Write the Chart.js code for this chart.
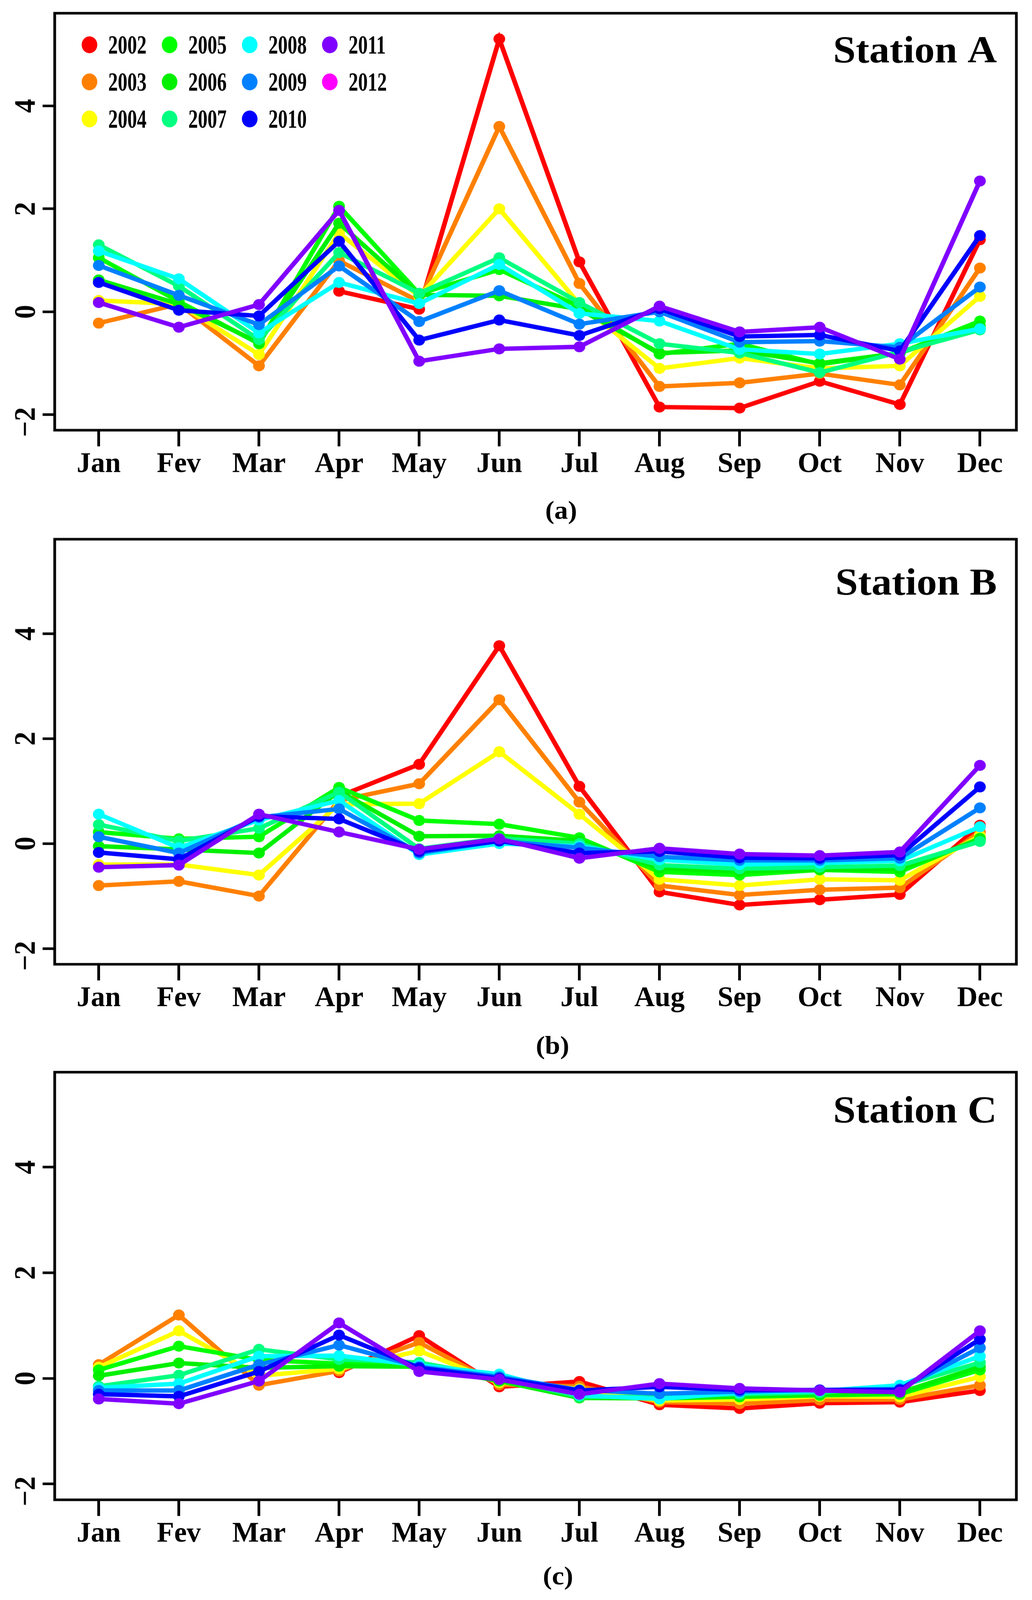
<!DOCTYPE html>
<html lang="en">
<head>
<meta charset="UTF-8">
<title>Monthly anomalies, Stations A, B and C</title>
<script src="https://cdn.jsdelivr.net/npm/chart.js"></script>
<style>
    html, body { margin: 0; padding: 0; background: #fff; overflow: hidden; }
    #page { position: relative; width: 2641px; height: 4359px; transform-origin: 0 0; }
    #page canvas { position: absolute; left: 0; }
    .caption {
        position: absolute;
        width: 200px;
        margin-left: -100px;
        text-align: center;
        font: bold 70px 'Liberation Serif', serif;
        line-height: 70px;
        color: #000;
    }
</style>
</head>
<body>
<div id="page">
    <canvas id="chartA" width="2641" height="1453" style="top:0px;width:2641px;height:1453px"></canvas>
    <canvas id="chartB" width="2641" height="1453" style="top:1453px;width:2641px;height:1453px"></canvas>
    <canvas id="chartC" width="2641" height="1453" style="top:2906px;width:2641px;height:1453px"></canvas>
    <div class="caption" style="left:1436px;top:1355px">(a)</div>
    <div class="caption" style="left:1414px;top:2813px">(b)</div>
    <div class="caption" style="left:1428px;top:4258px">(c)</div>
</div>

<script>
    // ---- data ----
    const months = ['Jan', 'Fev', 'Mar', 'Apr', 'May', 'Jun', 'Jul', 'Aug', 'Sep', 'Oct', 'Nov', 'Dec'];
    const years = [2002, 2003, 2004, 2005, 2006, 2007, 2008, 2009, 2010, 2011, 2012];
    const yTicks = [-2, 0, 2, 4];

    // one row per year, Jan..Dec (2002 starts in April, 2012 has no values)
    const stationA = [
        [null, null, null, 0.40, 0.05, 5.30, 0.97, -1.85, -1.87, -1.35, -1.80, 1.40],
        [-0.22, 0.15, -1.05, 0.99, 0.20, 3.60, 0.55, -1.45, -1.38, -1.20, -1.42, 0.85],
        [0.22, 0.15, -0.83, 1.53, 0.30, 2.00, 0.15, -1.10, -0.90, -1.10, -1.05, 0.30],
        [1.05, 0.20, -0.62, 2.05, 0.35, 0.82, 0.10, -0.82, -0.62, -1.02, -0.80, -0.18],
        [0.62, 0.15, -0.60, 1.72, 0.33, 0.31, 0.05, -0.80, -0.75, -1.00, -0.80, -0.28],
        [1.30, 0.50, -0.54, 1.15, 0.36, 1.05, 0.18, -0.62, -0.80, -1.18, -0.78, -0.35],
        [1.18, 0.64, -0.41, 0.57, 0.16, 0.92, -0.03, -0.18, -0.73, -0.82, -0.62, -0.33],
        [0.90, 0.32, -0.25, 0.89, -0.19, 0.41, -0.24, 0.00, -0.59, -0.57, -0.69, 0.48],
        [0.57, 0.03, -0.08, 1.37, -0.55, -0.16, -0.46, 0.06, -0.48, -0.45, -0.76, 1.48],
        [0.18, -0.30, 0.14, 1.97, -0.96, -0.72, -0.68, 0.11, -0.39, -0.30, -0.92, 2.54],
        [null, null, null, null, null, null, null, null, null, null, null, null]
    ];

    const stationB = [
        [null, null, null, 0.90, 1.51, 3.77, 1.09, -0.92, -1.17, -1.07, -0.97, 0.35],
        [-0.80, -0.72, -1.00, 0.82, 1.14, 2.74, 0.79, -0.80, -0.98, -0.88, -0.84, 0.22],
        [-0.40, -0.40, -0.60, 0.75, 0.76, 1.75, 0.56, -0.68, -0.80, -0.68, -0.70, 0.15],
        [0.22, 0.09, 0.13, 1.07, 0.44, 0.37, 0.11, -0.54, -0.60, -0.50, -0.54, 0.10],
        [-0.05, -0.11, -0.18, 1.00, 0.14, 0.15, 0.05, -0.47, -0.53, -0.50, -0.48, 0.08],
        [0.36, 0.05, 0.29, 0.98, -0.10, 0.10, 0.00, -0.41, -0.48, -0.45, -0.42, 0.04],
        [0.56, -0.08, 0.45, 0.82, -0.21, 0.00, -0.05, -0.31, -0.40, -0.37, -0.33, 0.32],
        [0.13, -0.18, 0.50, 0.66, -0.18, 0.05, -0.08, -0.25, -0.32, -0.32, -0.28, 0.68],
        [-0.17, -0.30, 0.52, 0.47, -0.15, 0.05, -0.18, -0.15, -0.27, -0.28, -0.22, 1.08],
        [-0.45, -0.41, 0.56, 0.22, -0.11, 0.09, -0.28, -0.09, -0.20, -0.23, -0.16, 1.49],
        [null, null, null, null, null, null, null, null, null, null, null, null]
    ];

    const stationC = [
        [null, null, null, 0.11, 0.81, -0.16, -0.06, -0.50, -0.57, -0.47, -0.45, -0.23],
        [0.26, 1.20, -0.13, 0.14, 0.68, -0.12, -0.15, -0.45, -0.48, -0.41, -0.40, -0.13],
        [0.21, 0.90, 0.05, 0.18, 0.52, -0.08, -0.20, -0.42, -0.40, -0.34, -0.35, 0.03],
        [0.16, 0.61, 0.35, 0.28, 0.25, -0.05, -0.35, -0.38, -0.35, -0.32, -0.30, 0.16],
        [0.05, 0.29, 0.20, 0.23, 0.22, -0.05, -0.37, -0.38, -0.33, -0.30, -0.27, 0.22],
        [-0.15, 0.06, 0.55, 0.36, 0.30, 0.02, -0.35, -0.35, -0.30, -0.27, -0.15, 0.30],
        [-0.18, -0.10, 0.42, 0.43, 0.25, 0.08, -0.32, -0.39, -0.27, -0.24, -0.13, 0.42],
        [-0.23, -0.23, 0.26, 0.63, 0.22, 0.03, -0.22, -0.29, -0.25, -0.22, -0.20, 0.58],
        [-0.30, -0.34, 0.13, 0.82, 0.20, 0.00, -0.23, -0.16, -0.22, -0.22, -0.22, 0.74],
        [-0.39, -0.48, -0.05, 1.05, 0.13, -0.02, -0.30, -0.10, -0.19, -0.23, -0.26, 0.90],
        [null, null, null, null, null, null, null, null, null, null, null, null]
    ];

    // ---- styles ----
    const yearColors = ['#FF0000', '#FF8000', '#FFFF00', '#00FF00', '#00F000', '#00FF80',
                        '#00FFFF', '#0080FF', '#0000FF', '#8000FF', '#FF00FF'];
    const SERIF = "'Liberation Serif', 'DejaVu Serif', serif";
    const BOX_LEFT = 140;
    const BOX_RIGHT = 2601;

    // fit the 2641x4359 figure into whatever viewport we got
    (function fitPage() {
        const sx = (window.innerWidth || 2641) / 2641;
        const sy = (window.innerHeight || 4359) / 4359;
        if (Math.abs(sx - 1) > 0.002 || Math.abs(sy - 1) > 0.002) {
            document.getElementById('page').style.transform = 'scale(' + sx + ',' + sy + ')';
        }
    })();

    // panel geometry, relative to each canvas
    const panels = [
        { id: 'chartA', title: 'Station A', values: stationA, boxTop: 36, boxBottom: 1172, titleY: 170, legend: true },
        { id: 'chartB', title: 'Station B', values: stationB, boxTop: 16, boxBottom: 1174, titleY: 167, legend: false },
        { id: 'chartC', title: 'Station C', values: stationC, boxTop: 11, boxBottom: 1180, titleY: 152, legend: false }
    ];

    // draws the frame, axis labels, station name and the year legend
    const decorPlugin = {
        id: 'decor',
        afterDraw(chart, args, opts) {
            const ctx = chart.ctx;
            const area = chart.chartArea;
            const xs = chart.scales.x;
            const ys = chart.scales.y;
            ctx.save();

            ctx.strokeStyle = '#000';
            ctx.lineWidth = 7;
            ctx.strokeRect(area.left, area.top, area.right - area.left, area.bottom - area.top);

            ctx.fillStyle = '#000';
            ctx.textBaseline = 'alphabetic';
            ctx.textAlign = 'center';
            ctx.font = 'bold 78px ' + SERIF;
            xs.ticks.forEach(t => {
                ctx.save();
                ctx.translate(xs.getPixelForValue(t.value), area.bottom + 114);
                ctx.scale(0.93, 1);
                ctx.fillText(months[t.value - 1], 0, 0);
                ctx.restore();
            });

            ctx.font = 'bold 76px ' + SERIF;
            ys.ticks.forEach(t => {
                const neg = t.value < 0;
                ctx.save();
                ctx.translate(89, ys.getPixelForValue(t.value) + (neg ? 20 : 0));
                ctx.rotate(-Math.PI / 2);
                ctx.fillText(neg ? '\u2212' + Math.abs(t.value) : String(t.value), 0, 0);
                ctx.restore();
            });

            ctx.font = 'bold 104px ' + SERIF;
            ctx.textAlign = 'right';
            ctx.fillText(opts.title, 2551, opts.titleY);

            if (opts.legend) {
                chart.data.datasets.forEach((ds, i) => {
                    const col = Math.floor(i / 3);
                    const row = i % 3;
                    const tx = 277 + col * 205;
                    const cy = 122 + row * 101;
                    ctx.fillStyle = ds.borderColor;
                    ctx.beginPath();
                    ctx.ellipse(tx - 48, cy, 20, 23, 0, 0, Math.PI * 2);
                    ctx.fill();
                    ctx.fillStyle = '#000';
                    ctx.save();
                    ctx.translate(tx, cy + 24);
                    ctx.scale(0.69, 1);
                    ctx.font = 'bold 71px ' + SERIF;
                    ctx.textAlign = 'left';
                    ctx.fillText(ds.label, 0, 0);
                    ctx.restore();
                });
            }
            ctx.restore();
        }
    };

    function makeChart(p) {
        const canvas = document.getElementById(p.id);
        const datasets = years.map((yr, i) => ({
            label: String(yr),
            data: p.values[i].map((v, m) => ({ x: m + 1, y: v })),
            borderColor: yearColors[i],
            backgroundColor: yearColors[i],
            pointBackgroundColor: yearColors[i],
            pointBorderColor: yearColors[i],
            pointBorderWidth: 0,
            pointRadius: 15,
            borderWidth: 12,
            tension: 0,
            spanGaps: false,
            order: years.length - i
        }));

        return new Chart(canvas, {
            type: 'line',
            data: { datasets },
            options: {
                responsive: false,
                animation: false,
                devicePixelRatio: 1,
                events: [],
                layout: {
                    padding: { left: 0, right: canvas.width - BOX_RIGHT, top: p.boxTop, bottom: 0 }
                },
                plugins: {
                    legend: { display: false },
                    tooltip: { enabled: false },
                    decor: { title: p.title, titleY: p.titleY, legend: p.legend }
                },
                scales: {
                    x: {
                        type: 'linear',
                        min: 0.45,
                        max: 12.455,
                        afterBuildTicks: s => { s.ticks = months.map((_, i) => ({ value: i + 1 })); },
                        afterFit: s => { s.height = canvas.height - p.boxBottom; },
                        grid: { drawOnChartArea: false, drawTicks: true, tickLength: 44, tickWidth: 7, tickColor: '#000' },
                        border: { display: false },
                        ticks: { display: false }
                    },
                    y: {
                        type: 'linear',
                        min: -2.3,
                        max: 5.8,
                        afterBuildTicks: s => { s.ticks = yTicks.map(v => ({ value: v })); },
                        afterFit: s => { s.width = BOX_LEFT; },
                        grid: { drawOnChartArea: false, drawTicks: true, tickLength: 31, tickWidth: 7, tickColor: '#000' },
                        border: { display: false },
                        ticks: { display: false }
                    }
                }
            },
            plugins: [decorPlugin]
        });
    }

    panels.forEach(makeChart);
</script>
</body>
</html>
